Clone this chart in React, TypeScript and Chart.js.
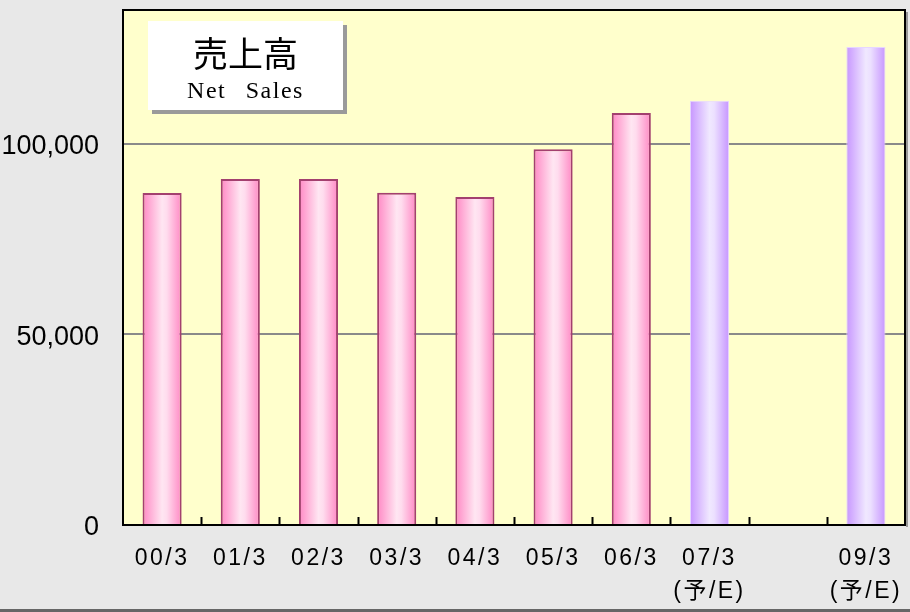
import React, { useEffect, useRef } from "react";
import { Chart, registerables } from "chart.js";

Chart.register(...registerables);

const categories: (string | string[])[] = [
  "00/3", "01/3", "02/3", "03/3", "04/3", "05/3", "06/3",
  ["07/3", "(予/E)"], "", ["09/3", "(予/E)"],
];
const netSales: (number | null)[] = [87000, 90700, 90700, 87100, 86000, 98500, 108000, 111200, null, 125300];
const isForecast: boolean[] = [false, false, false, false, false, false, false, true, false, true];
const yTickValues: number[] = [0, 50000, 100000];
const yMax = 135000;

const FONT = "'Liberation Sans', Arial, 'Noto Sans CJK JP', sans-serif";
const BAR_PCT = 0.5;

function barFill(ctx: any) {
  const chart = ctx.chart;
  const i = ctx.dataIndex;
  const xs = chart.scales && chart.scales.x;
  const fc = i !== undefined && isForecast[i];
  if (!xs || !chart.chartArea || i === undefined) return fc ? "#d9b3ff" : "#ffb3d9";
  const c = xs.getPixelForValue(i);
  const w = (xs.width / categories.length) * BAR_PCT;
  const g = chart.ctx.createLinearGradient(c - w / 2, 0, c + w / 2, 0);
  if (fc) {
    g.addColorStop(0, "#c796ff");
    g.addColorStop(0.5, "#f0e8ff");
    g.addColorStop(0.62, "#ece0ff");
    g.addColorStop(1, "#c796ff");
  } else {
    g.addColorStop(0, "#ff88c4");
    g.addColorStop(0.5, "#ffe6f2");
    g.addColorStop(0.62, "#ffdcee");
    g.addColorStop(1, "#ff88c4");
  }
  return g;
}

const framePlugin = {
  id: "framePlugin",
  beforeDraw(chart: any) {
    const { ctx, chartArea: a } = chart;
    ctx.save();
    ctx.fillStyle = "#ffffcc";
    ctx.fillRect(a.left, a.top, a.right - a.left, a.bottom - a.top);
    ctx.restore();
  },
  afterDatasetsDraw(chart: any) {
    chart.ctx.letterSpacing = "2.5px";
  },
  afterDraw(chart: any) {
    const { ctx, chartArea: a, scales } = chart;
    ctx.letterSpacing = "0px";
    ctx.save();
    ctx.fillStyle = "#9a9a9a";
    ctx.fillRect(a.right + 1, a.top + 2, 2, a.bottom - a.top);
    ctx.strokeStyle = "#000";
    ctx.lineWidth = 2;
    ctx.beginPath();
    ctx.moveTo(a.left, a.top);
    ctx.lineTo(a.right, a.top);
    ctx.lineTo(a.right, a.bottom);
    ctx.stroke();
    const xs = scales.x;
    const step = xs.width / categories.length;
    ctx.beginPath();
    for (let k = 1; k < categories.length; k++) {
      const x = Math.round(xs.left + step * k) + 0.5;
      ctx.moveTo(x, a.bottom);
      ctx.lineTo(x, a.bottom - 8);
    }
    ctx.stroke();
    ctx.restore();
  },
};

function SalesChart() {
  const ref = useRef<HTMLCanvasElement | null>(null);
  useEffect(() => {
    if (!ref.current) return;
    const chart = new Chart(ref.current, {
      type: "bar",
      data: {
        labels: categories as any,
        datasets: [
          {
            label: "Net Sales",
            data: netSales as any,
            backgroundColor: barFill as any,
            borderColor: (c: any) => (isForecast[c.dataIndex] ? "#e6d6ff" : "#a3406f"),
            borderWidth: (c: any) => (isForecast[c.dataIndex] ? 1 : 2),
            borderSkipped: "start",
            barPercentage: BAR_PCT,
            categoryPercentage: 1,
          },
        ],
      },
      options: {
        animation: false,
        responsive: false,
        maintainAspectRatio: false,
        devicePixelRatio: 1,
        layout: { padding: { top: 10, right: 5, left: 0, bottom: 0 } },
        plugins: { legend: { display: false }, tooltip: { enabled: false }, title: { display: false } },
        scales: {
          x: {
            afterFit: (s: any) => { s.height = 87; s.paddingLeft = 0; s.paddingRight = 0; },
            grid: { display: true, color: "rgba(0,0,0,0)", drawTicks: false },
            border: { display: true, color: "#000", width: 2, z: 1 },
            ticks: {
              z: 1,
              color: "#000",
              padding: 18,
              maxRotation: 0,
              autoSkip: false,
              font: { family: FONT, size: 23, lineHeight: 1.4 },
            },
          },
          y: {
            min: 0,
            max: yMax,
            afterFit: (s: any) => { s.width = 123; s.paddingTop = 0; s.paddingBottom = 0; },
            afterBuildTicks: (s: any) => {
              s.ticks = yTickValues.map((v) => ({ value: v }));
            },
            grid: {
              color: (c: any) => (c.tick && c.tick.value === 0 ? "rgba(0,0,0,0)" : "#8a8a8a"),
              lineWidth: 2,
              drawTicks: false,
            },
            border: { display: true, color: "#000", width: 2, z: 1 },
            ticks: {
              color: "#000",
              padding: 24,
              labelOffset: 3,
              font: { family: FONT, size: 27 },
              callback: (v: any) => Number(v).toLocaleString("en-US"),
            },
          },
        },
      },
      plugins: [framePlugin],
    });
    return () => chart.destroy();
  }, []);
  return <canvas ref={ref} width={910} height={612} style={{ position: "absolute", left: 0, top: 0 }} />;
}

export default function App() {
  return (
    <div style={{ position: "relative", width: 910, height: 612, background: "#e8e8e8", overflow: "hidden" }}>
      <style>{`body{margin:0}`}</style>
      <SalesChart />
      <div
        style={{
          position: "absolute",
          left: 148,
          top: 21,
          width: 195,
          height: 89,
          background: "#fff",
          boxShadow: "4px 4px 0 #9a9a9a",
        }}
      >
        <div
          style={{
            position: "absolute",
            left: 0,
            width: "100%",
            top: 13,
            textAlign: "center",
            fontFamily: "'Noto Sans CJK JP', sans-serif",
            fontSize: 35,
            lineHeight: "35px",
            color: "#000",
          }}
        >
          売上高
        </div>
        <div
          style={{
            position: "absolute",
            left: 0,
            width: "100%",
            top: 57,
            textAlign: "center",
            fontFamily: "'Liberation Serif', 'Times New Roman', serif",
            fontSize: 24,
            lineHeight: "24px",
            letterSpacing: "1.5px",
            wordSpacing: "12px",
            color: "#000",
          }}
        >
          Net Sales
        </div>
      </div>
      <div style={{ position: "absolute", left: 0, top: 609, width: 910, height: 3, background: "#666" }} />
    </div>
  );
}
